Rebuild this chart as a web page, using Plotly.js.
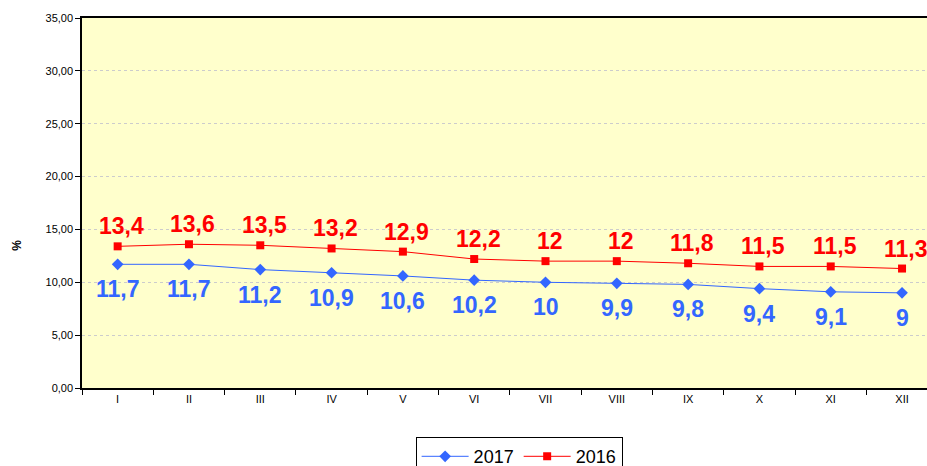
<!DOCTYPE html>
<html><head><meta charset="utf-8">
<script src="https://cdn.plot.ly/plotly-3.0.1.min.js"></script>
<style>html,body{margin:0;padding:0;background:#fff}#c{width:927px;height:466px}</style>
</head><body><div id="c"></div>
<script>
const months = ["I","II","III","IV","V","VI","VII","VIII","IX","X","XI","XII"];
const v2017 = [11.7,11.7,11.2,10.9,10.6,10.2,10,9.9,9.8,9.4,9.1,9];
const v2016 = [13.4,13.6,13.5,13.2,12.9,12.2,12,12,11.8,11.5,11.5,11.3];
const fmt = v => String(v).replace('.', ',');
const BLUE = "#3366FF", RED = "#FF0000";
const traces = [
  {x: months, y: v2017, name: "2017", type: "scatter", mode: "lines+markers",
   line: {color: BLUE, width: 1}, marker: {symbol: "diamond", size: 9, color: BLUE}},
  {x: months, y: v2016, name: "2016", type: "scatter", mode: "lines+markers",
   line: {color: RED, width: 1}, marker: {symbol: "square", size: 8, color: RED}}
];
const lblFont = c => ({family: "Arial, Liberation Sans", size: 23, color: c, weight: "bold"});
const annotations = [];
months.forEach((m, i) => {
  annotations.push({x: m, y: v2017[i], text: fmt(v2017[i]), showarrow: false, yshift: -25, font: lblFont(BLUE)});
  annotations.push({x: m, y: v2016[i], text: fmt(v2016[i]), showarrow: false, yshift: 20, xshift: 4, font: lblFont(RED)});
});
annotations.push({xref: "paper", yref: "paper", x: -0.087, y: 0.386, text: "%", textangle: -90,
  showarrow: false, font: {family: "Arial, Liberation Sans", size: 12, color: "#000", weight: "bold"}});
const layout = {
  width: 927, height: 466,
  margin: {l: 82, r: 0, t: 18, b: 78},
  paper_bgcolor: "#FFFFFF", plot_bgcolor: "#FFFFCC",
  separators: ",.",
  font: {family: "Arial, Liberation Sans", size: 11, color: "#000"},
  showlegend: true,
  legend: {orientation: "h", xref: "container", yref: "container", x: 0.56, xanchor: "center",
    y: 0.062, yanchor: "top", bordercolor: "#000", borderwidth: 1, bgcolor: "#fff",
    font: {size: 18, color: "#000"}, itemwidth: 47, traceorder: "normal"},
  annotations: annotations,
  xaxis: {type: "category", range: [-0.5, 11.35], showline: true, linecolor: "#000", linewidth: 1.5,
    mirror: true, ticks: "outside", tickson: "boundaries", ticklen: 5, tickcolor: "#000",
    showgrid: false, tickfont: {size: 11}},
  yaxis: {range: [0, 35], dtick: 5, tickformat: ".2f", showline: true, linecolor: "#000", linewidth: 1.5,
    mirror: true, ticks: "outside", ticklen: 5, tickcolor: "#000",
    gridcolor: "#CCCCCC", griddash: "dot", gridwidth: 1, zeroline: false}
};
Plotly.newPlot("c", traces, layout, {displayModeBar: false});
</script></body></html>
